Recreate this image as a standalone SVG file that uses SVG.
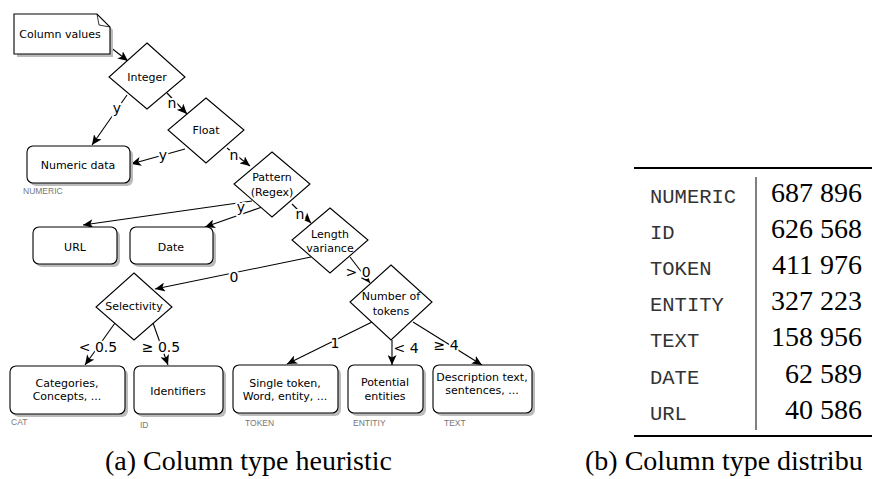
<svg xmlns="http://www.w3.org/2000/svg" width="872" height="479" viewBox="0 0 872 479">
<style>
.shape{fill:#fff;stroke:#000;stroke-width:1.1}
.shadow{fill:#bbb;stroke:none}
.nt{font-family:"DejaVu Sans",Verdana,sans-serif;font-size:11px;fill:#000;text-anchor:middle}
.el{font-family:"DejaVu Sans",Verdana,sans-serif;font-size:14px;fill:#000;text-anchor:middle;stroke:#fff;stroke-width:4;paint-order:stroke;stroke-linejoin:round}
.tag{font-family:"Liberation Sans",Arial,sans-serif;font-size:8.5px;fill:#777}
.conn{stroke:#000;stroke-width:1.1;fill:none;marker-end:url(#arr)}
.mono{font-family:"Liberation Mono","Courier New",monospace;font-size:20.5px;fill:#333}
.num{font-family:"Liberation Serif","Times New Roman",serif;font-size:28px;fill:#000;text-anchor:end}
.cap{font-family:"Liberation Serif","Times New Roman",serif;font-size:28px;fill:#000}
</style>
<defs>
<marker id="arr" markerUnits="userSpaceOnUse" markerWidth="11" markerHeight="9" refX="10" refY="4.5" orient="auto">
<path d="M0,0 L10,4.5 L0,9 L2.5,4.5 Z" fill="#000"/>
</marker>
</defs>

<g id="connectors">
<line class="conn" x1="110" y1="47" x2="128" y2="61"/>
<line class="conn" x1="127" y1="95" x2="92" y2="145"/>
<line class="conn" x1="167" y1="93" x2="187" y2="114"/>
<line class="conn" x1="185" y1="149" x2="131" y2="164"/>
<line class="conn" x1="227" y1="148" x2="250" y2="166"/>
<line class="conn" x1="252" y1="201" x2="83" y2="225"/>
<line class="conn" x1="262" y1="207" x2="205" y2="227"/>
<line class="conn" x1="292" y1="204" x2="311" y2="223"/>
<line class="conn" x1="311" y1="257" x2="155" y2="289"/>
<line class="conn" x1="350" y1="257" x2="370" y2="283"/>
<line class="conn" x1="115" y1="323" x2="85" y2="365"/>
<line class="conn" x1="153" y1="323" x2="168" y2="365"/>
<line class="conn" x1="372" y1="322" x2="287" y2="364"/>
<line class="conn" x1="392" y1="340" x2="392" y2="365"/>
<line class="conn" x1="413" y1="322" x2="482" y2="365"/>
<text class="el" x="117" y="113">y</text>
<text class="el" x="172" y="108">n</text>
<text class="el" x="163" y="160">y</text>
<text class="el" x="234" y="160">n</text>
<text class="el" x="241" y="212">y</text>
<text class="el" x="300" y="219">n</text>
<text class="el" x="234" y="282">0</text>
<text class="el" x="358" y="277">&gt; 0</text>
<text class="el" x="98" y="352">&lt; 0.5</text>
<text class="el" x="161" y="352">≥ 0.5</text>
<text class="el" x="335" y="348">1</text>
<text class="el" x="406" y="353">&lt; 4</text>
<text class="el" x="446" y="350">≥ 4</text>
</g>

<g id="column-values">
<path class="shadow" d="M17,17 L100,17 L113,30 L113,57 L17,57 Z"/>
<path class="shape" d="M14,14 L97,14 L110,27 L110,54 L14,54 Z"/>
<path d="M97,14 L99,25 L110,27" fill="none" stroke="#000" stroke-width="0.8"/>
<text class="nt" x="60" y="38">Column values</text>
</g>

<g id="integer">
<polygon class="shape" points="147,43 185,77 147,109 109,77"/>
<text class="nt" x="147" y="81">Integer</text>
</g>
<g id="float">
<polygon class="shape" points="206,98 244,130 206,163 168,130"/>
<text class="nt" x="206" y="134">Float</text>
</g>
<g id="pattern">
<polygon class="shape" points="272,152 310,184 272,217 234,184"/>
<text class="nt" x="272" y="181">Pattern</text>
<text class="nt" x="272" y="196">(Regex)</text>
</g>
<g id="length-variance">
<polygon class="shape" points="330,208 368,240 330,273 292,240"/>
<text class="nt" x="330" y="238">Length</text>
<text class="nt" x="330" y="252">variance</text>
</g>
<g id="number-of-tokens">
<polygon class="shape" points="391,265 432,302 391,340 350,302"/>
<text class="nt" x="391" y="300">Number of</text>
<text class="nt" x="391" y="315">tokens</text>
</g>
<g id="selectivity">
<polygon class="shape" points="134,273 172,307 134,340 96,307"/>
<text class="nt" x="134" y="310">Selectivity</text>
</g>

<g id="numeric-data">
<rect class="shadow" x="30" y="149" width="103" height="37" rx="6"/>
<rect class="shape" x="27" y="146" width="103" height="37" rx="6"/>
<text class="nt" x="78" y="169">Numeric data</text>
<text class="tag" x="23" y="194">NUMERIC</text>
</g>
<g id="url">
<rect class="shadow" x="36" y="230" width="84" height="37" rx="6"/>
<rect class="shape" x="33" y="227" width="84" height="37" rx="6"/>
<text class="nt" x="75" y="251">URL</text>
</g>
<g id="date">
<rect class="shadow" x="133" y="230" width="83" height="37" rx="6"/>
<rect class="shape" x="130" y="227" width="83" height="37" rx="6"/>
<text class="nt" x="171" y="251">Date</text>
</g>
<g id="categories">
<rect class="shadow" x="13" y="369" width="115" height="48" rx="6"/>
<rect class="shape" x="10" y="366" width="115" height="48" rx="6"/>
<text class="nt" x="67" y="387">Categories,</text>
<text class="nt" x="67" y="400">Concepts, ...</text>
<text class="tag" x="11" y="425">CAT</text>
</g>
<g id="identifiers">
<rect class="shadow" x="137" y="369" width="89" height="48" rx="6"/>
<rect class="shape" x="134" y="366" width="89" height="48" rx="6"/>
<text class="nt" x="178" y="395">Identifiers</text>
<text class="tag" x="140" y="428">ID</text>
</g>
<g id="single-token">
<rect class="shadow" x="236" y="368" width="105" height="48" rx="6"/>
<rect class="shape" x="233" y="365" width="105" height="48" rx="6"/>
<text class="nt" x="285" y="387">Single token,</text>
<text class="nt" x="285" y="400">Word, entity, ...</text>
<text class="tag" x="245" y="426">TOKEN</text>
</g>
<g id="potential-entities">
<rect class="shadow" x="351" y="368" width="75" height="48" rx="6"/>
<rect class="shape" x="348" y="365" width="75" height="48" rx="6"/>
<text class="nt" x="385" y="386">Potential</text>
<text class="nt" x="385" y="400">entities</text>
<text class="tag" x="353" y="426">ENTITIY</text>
</g>
<g id="description-text">
<rect class="shadow" x="436" y="368" width="99" height="48" rx="6"/>
<rect class="shape" x="433" y="365" width="99" height="48" rx="6"/>
<text class="nt" x="482" y="381">Description text,</text>
<text class="nt" x="482" y="394">sentences, ...</text>
<text class="tag" x="444" y="426">TEXT</text>
</g>

<g id="table">
<line x1="634" y1="168" x2="872" y2="168" stroke="#000" stroke-width="2"/>
<line x1="634" y1="436" x2="872" y2="436" stroke="#000" stroke-width="2"/>
<line x1="756" y1="177" x2="756" y2="430" stroke="#000" stroke-width="1"/>
<text class="mono" x="650" y="203">NUMERIC</text>
<text class="mono" x="650" y="239">ID</text>
<text class="mono" x="650" y="275">TOKEN</text>
<text class="mono" x="650" y="311">ENTITY</text>
<text class="mono" x="650" y="347">TEXT</text>
<text class="mono" x="650" y="384">DATE</text>
<text class="mono" x="650" y="420">URL</text>
<text class="num" x="862" y="202">687 896</text>
<text class="num" x="862" y="238">626 568</text>
<text class="num" x="862" y="274">411 976</text>
<text class="num" x="862" y="310">327 223</text>
<text class="num" x="862" y="346">158 956</text>
<text class="num" x="862" y="383">62 589</text>
<text class="num" x="862" y="419">40 586</text>
</g>

<g id="captions">
<text class="cap" x="105" y="470">(a) Column type heuristic</text>
<text class="cap" x="585" y="470">(b) Column type distribu</text>
</g>
</svg>
